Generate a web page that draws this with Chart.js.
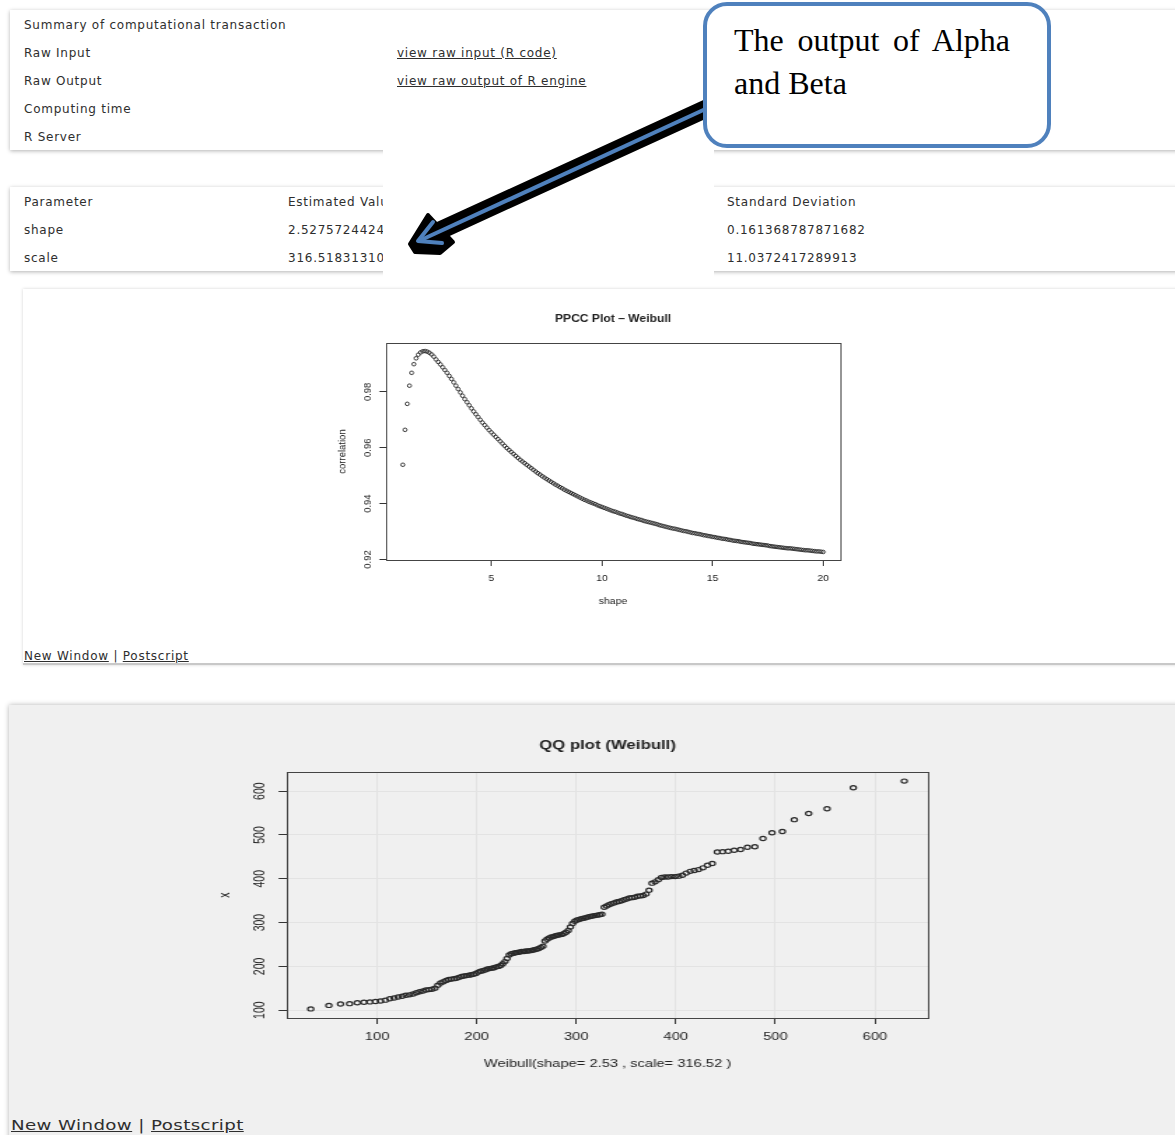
<!DOCTYPE html>
<html>
<head>
<meta charset="utf-8">
<script src="https://cdn.jsdelivr.net/npm/chart.js@4.4.1/dist/chart.umd.min.js"></script>
<style>
  html, body { margin: 0; padding: 0; }
  body {
    width: 1175px; height: 1135px; position: relative; overflow: hidden;
    background: #fff; font-family: "DejaVu Sans", Verdana, sans-serif; color: #333;
  }
  .panel { position: absolute; background: #fff; }
  .t {
    position: absolute; font-size: 12px; letter-spacing: 0.75px; line-height: 16px;
    white-space: nowrap; color: #2e2e2e;
  }
  .u { text-decoration: underline; }
  #patch { position: absolute; left: 383px; top: 149px; width: 331px; height: 129px; background: #fff; z-index: 2; }
  #arrow { position: absolute; left: 0; top: 0; z-index: 3; }
  #callout {
    position: absolute; left: 703px; top: 2px; width: 348px; height: 146px; box-sizing: border-box;
    border: 4px solid #4f81bd; border-radius: 24px; background: #fff; z-index: 4;
  }
  #calloutText {
    position: absolute; left: 734px; top: 19px; width: 276px; z-index: 5;
    font-family: "Liberation Serif", "Times New Roman", serif; font-size: 32px; line-height: 43.3px;
    color: #000; text-align: justify; text-align-last: left;
  }
  .wrap { position: absolute; transform-origin: 0 0; }
</style>
</head>
<body>

<!-- transaction summary -->
<div class="panel" style="left:10px;top:10px;width:1175px;height:140px;box-shadow:0 1px 4px rgba(0,0,0,0.3);"></div>
<div class="t" style="left:24px;top:17px;">Summary of computational transaction</div>
<div class="t" style="left:24px;top:45px;">Raw Input</div>
<div class="t" style="left:24px;top:73px;">Raw Output</div>
<div class="t" style="left:24px;top:101px;">Computing time</div>
<div class="t" style="left:24px;top:129px;">R Server</div>
<div class="t u" style="left:397px;top:45px;">view raw input (R code)</div>
<div class="t u" style="left:397px;top:73px;">view raw output of R engine</div>

<!-- parameter estimates -->
<div class="panel" style="left:10px;top:187px;width:1175px;height:84px;box-shadow:0 1px 4px rgba(0,0,0,0.3);"></div>
<div class="t" style="left:24px;top:194px;">Parameter</div>
<div class="t" style="left:24px;top:222px;">shape</div>
<div class="t" style="left:24px;top:250px;">scale</div>
<div class="t" style="left:288px;top:194px;">Estimated Value</div>
<div class="t" style="left:288px;top:222px;">2.5275724424</div>
<div class="t" style="left:288px;top:250px;">316.51831310</div>
<div class="t" style="left:727px;top:194px;">Standard Deviation</div>
<div class="t" style="left:727px;top:222px;">0.161368787871682</div>
<div class="t" style="left:727px;top:250px;">11.0372417289913</div>

<div id="patch"></div>

<svg id="arrow" width="1175" height="300">
  <line x1="712" y1="106" x2="428" y2="236" stroke="#000" stroke-width="18" stroke-linecap="round"/>
  <polygon points="410,244 428,215 453,242 440,253 415,252" fill="#000" stroke="#000" stroke-width="4" stroke-linejoin="round"/>
  <line x1="712" y1="106" x2="421" y2="240" stroke="#4f81bd" stroke-width="4"/>
  <polyline points="433,222 418,241 442,243" fill="none" stroke="#4f81bd" stroke-width="4" stroke-linejoin="round" stroke-linecap="round"/>
</svg>

<div id="callout"></div>
<div id="calloutText">The output of Alpha and Beta</div>

<!-- PPCC panel -->
<div class="panel" style="left:23px;top:289px;width:1160px;height:374px;border-bottom:2px solid #c8c8c8;box-shadow:0 0 3px rgba(0,0,0,0.18);"></div>
<div class="wrap" style="left:330px;top:300px;transform:scaleX(1.1);">
  <canvas id="ppcc" width="480" height="320"></canvas>
</div>
<div class="t" style="left:24px;top:648px;"><span class="u">New Window</span> | <span class="u">Postscript</span></div>

<!-- QQ panel -->
<div class="panel" style="left:9px;top:705px;width:1175px;height:440px;background:#f0f0f0;box-shadow:0 0 5px rgba(0,0,0,0.3);"></div>
<div class="wrap" style="left:200px;top:720px;transform:scaleX(1.4);">
  <canvas id="qq" width="540" height="360"></canvas>
</div>
<div class="t" style="left:11px;top:1116px;font-size:14px;line-height:18px;letter-spacing:0.3px;transform-origin:0 0;transform:scaleX(1.3);"><span class="u">New Window</span> | <span class="u">Postscript</span></div>

<script>
// PPCC: correlation against Weibull shape
const PPCC_SHAPE = [
  1.0,1.1,1.2,1.3,1.4,1.5,1.6,1.7,1.8,1.9,
  2.0,2.1,2.2,2.3,2.4,2.5,2.6,2.7,2.8,2.9,
  3.0,3.1,3.2,3.3,3.4,3.5,3.6,3.7,3.8,3.9,
  4.0,4.1,4.2,4.3,4.4,4.5,4.6,4.7,4.8,4.9,
  5.0,5.1,5.2,5.3,5.4,5.5,5.6,5.7,5.8,5.9,
  6.0,6.1,6.2,6.3,6.4,6.5,6.6,6.7,6.8,6.9,
  7.0,7.1,7.2,7.3,7.4,7.5,7.6,7.7,7.8,7.9,
  8.0,8.1,8.2,8.3,8.4,8.5,8.6,8.7,8.8,8.9,
  9.0,9.1,9.2,9.3,9.4,9.5,9.6,9.7,9.8,9.9,
  10.0,10.1,10.2,10.3,10.4,10.5,10.6,10.7,10.8,10.9,
  11.0,11.1,11.2,11.3,11.4,11.5,11.6,11.7,11.8,11.9,
  12.0,12.1,12.2,12.3,12.4,12.5,12.6,12.7,12.8,12.9,
  13.0,13.1,13.2,13.3,13.4,13.5,13.6,13.7,13.8,13.9,
  14.0,14.1,14.2,14.3,14.4,14.5,14.6,14.7,14.8,14.9,
  15.0,15.1,15.2,15.3,15.4,15.5,15.6,15.7,15.8,15.9,
  16.0,16.1,16.2,16.3,16.4,16.5,16.6,16.7,16.8,16.9,
  17.0,17.1,17.2,17.3,17.4,17.5,17.6,17.7,17.8,17.9,
  18.0,18.1,18.2,18.3,18.4,18.5,18.6,18.7,18.8,18.9,
  19.0,19.1,19.2,19.3,19.4,19.5,19.6,19.7,19.8,19.9,
  20.0
];
const PPCC_CORR = [
  0.9539,0.9664,0.9757,0.9822,0.9868,0.9899,0.9920,0.9933,0.9941,0.9945,
  0.9946,0.9944,0.9940,0.9934,0.9926,0.9916,0.9907,0.9898,0.9888,0.9878,
  0.9868,0.9857,0.9846,0.9834,0.9822,0.9810,0.9798,0.9786,0.9774,0.9763,
  0.9752,0.9741,0.9730,0.9720,0.9710,0.9700,0.9690,0.9681,0.9672,0.9663,
  0.9655,0.9647,0.9639,0.9631,0.9623,0.9615,0.9607,0.9599,0.9592,0.9585,
  0.9578,0.9571,0.9564,0.9557,0.9551,0.9545,0.9539,0.9533,0.9527,0.9521,
  0.9515,0.9509,0.9504,0.9498,0.9493,0.9488,0.9483,0.9478,0.9473,0.9468,
  0.9464,0.9459,0.9455,0.9450,0.9446,0.9442,0.9438,0.9434,0.9430,0.9426,
  0.9422,0.9418,0.9414,0.9411,0.9407,0.9404,0.9401,0.9398,0.9394,0.9391,
  0.9388,0.9385,0.9382,0.9379,0.9376,0.9373,0.9371,0.9368,0.9365,0.9363,
  0.9360,0.9357,0.9355,0.9352,0.9350,0.9348,0.9345,0.9343,0.9341,0.9338,
  0.9336,0.9334,0.9332,0.9330,0.9328,0.9326,0.9323,0.9321,0.9319,0.9317,
  0.9315,0.9313,0.9311,0.9310,0.9308,0.9306,0.9304,0.9302,0.9301,0.9299,
  0.9297,0.9295,0.9294,0.9292,0.9291,0.9289,0.9287,0.9286,0.9284,0.9283,
  0.9281,0.9280,0.9278,0.9277,0.9275,0.9274,0.9273,0.9271,0.9270,0.9268,
  0.9267,0.9266,0.9265,0.9263,0.9262,0.9261,0.9260,0.9259,0.9257,0.9256,
  0.9255,0.9254,0.9253,0.9252,0.9251,0.9250,0.9248,0.9247,0.9246,0.9245,
  0.9244,0.9243,0.9242,0.9241,0.9240,0.9240,0.9239,0.9238,0.9237,0.9236,
  0.9235,0.9234,0.9233,0.9233,0.9232,0.9231,0.9230,0.9229,0.9229,0.9228,
  0.9227
];
const PPCC_XTICKS = [5, 10, 15, 20];
const PPCC_YTICKS = [0.92, 0.94, 0.96, 0.98];

// QQ: Weibull quantiles vs. ordered sample
const QQ_THEORETICAL = [
  33.4,51.6,63.3,72.4,80.1,86.8,92.8,98.4,103.5,108.3,
  112.8,117.1,121.2,125.2,128.9,132.6,136.1,139.5,142.8,146.0,
  149.1,152.2,155.2,158.1,161.0,163.8,166.6,169.3,172.0,174.7,
  177.3,179.8,182.3,184.9,187.4,189.8,192.2,194.6,197.0,199.3,
  201.6,203.9,206.2,208.5,210.8,213.0,215.3,217.5,219.7,221.9,
  224.1,226.2,228.4,230.5,232.7,234.8,237.0,239.1,241.2,243.3,
  245.4,247.6,249.7,251.8,253.9,256.0,258.1,260.2,262.3,264.4,
  266.5,268.6,270.7,272.8,274.9,277.0,279.1,281.3,283.4,285.5,
  287.7,289.8,292.0,294.1,296.3,298.5,300.7,302.9,305.1,307.3,
  309.6,311.8,314.1,316.4,318.7,321.0,323.4,325.7,328.1,330.5,
  332.9,335.4,337.9,340.4,342.9,345.5,348.1,350.7,353.3,356.0,
  358.8,361.6,364.4,367.2,370.1,373.1,376.1,379.2,382.4,385.6,
  388.9,392.2,395.7,399.2,402.8,406.6,410.4,414.4,418.5,422.8,
  427.2,431.8,436.6,441.7,447.0,452.6,458.6,465.0,471.9,479.3,
  487.5,496.6,507.0,519.0,533.4,551.9,578.2,629.4
];
const QQ_SAMPLE = [
  103,111,114,115,117,118,119,120,121,123,
  126,128,130,132,134,135,137,140,142,144,
  146,147,148,150,157,162,165,168,170,171,
  172,173,175,177,178,179,180,181,182,184,
  187,189,190,192,194,195,196,197,199,200,
  202,206,211,218,226,229,230,231,232,233,
  234,234,235,235,236,237,238,239,241,243,
  246,258,262,265,267,268,270,271,272,273,
  275,278,282,290,298,303,306,307,309,310,
  311,313,314,315,316,317,318,319,335,338,
  341,343,345,347,348,350,352,354,356,357,
  358,360,361,362,365,374,390,393,398,403,
  404,404,405,405,406,408,413,417,419,421,
  425,431,435,461,462,463,465,467,472,473,
  492,505,508,535,549,560,608,623
];
const QQ_XTICKS = [100, 200, 300, 400, 500, 600];
const QQ_YTICKS = [100, 200, 300, 400, 500, 600];

// axis limits the way R extends them: 4% past the data on each side
function rRange(values) {
  const lo = Math.min(...values), hi = Math.max(...values);
  const d = (hi - lo) * 0.04;
  return [lo - d, hi + d];
}

const RFONT = '"Liberation Sans", Arial, Helvetica, sans-serif';

// box, tick labels, axis titles and main title in base-graphics style
function rFrame(o) {
  return {
    id: 'rFrame',
    afterDraw(chart) {
      const { ctx, chartArea: a } = chart;
      const xs = chart.scales.x, ys = chart.scales.y;
      ctx.save();
      ctx.strokeStyle = o.boxColor;
      ctx.lineWidth = 1;
      ctx.strokeRect(Math.round(a.left) + 0.5, Math.round(a.top) + 0.5,
                     Math.round(a.right - a.left), Math.round(a.bottom - a.top));
      ctx.fillStyle = o.textColor;
      ctx.textAlign = 'center';
      ctx.textBaseline = 'middle';
      ctx.font = o.axisSize + 'px ' + RFONT;
      xs.ticks.forEach(t => {
        ctx.fillText(o.xfmt(t.value), xs.getPixelForValue(t.value), a.bottom + o.xLabelGap);
      });
      ys.ticks.forEach(t => {
        ctx.save();
        ctx.translate(a.left - o.yLabelGap, ys.getPixelForValue(t.value));
        ctx.rotate(-Math.PI / 2);
        ctx.fillText(o.yfmt(t.value), 0, 0);
        ctx.restore();
      });
      ctx.fillText(o.xTitle, (a.left + a.right) / 2, a.bottom + o.xTitleGap);
      ctx.save();
      ctx.translate(a.left - o.yTitleGap, (a.top + a.bottom) / 2);
      ctx.rotate(-Math.PI / 2);
      ctx.fillText(o.yTitle, 0, 0);
      ctx.restore();
      ctx.font = 'bold ' + o.titleSize + 'px ' + RFONT;
      ctx.fillText(o.title, (a.left + a.right) / 2, o.titleY);
      ctx.restore();
    }
  };
}

function rScatter(canvasId, xs, ys, xticks, yticks, look, frame) {
  const [xmin, xmax] = rRange(xs);
  const [ymin, ymax] = rRange(ys);
  const gridLines = look.grid;
  const axis = (min, max, ticks, fitSide) => ({
    type: 'linear', min: min, max: max,
    afterBuildTicks: s => { s.ticks = ticks.map(v => ({ value: v })); },
    afterFit: s => { s[fitSide] = 10; },
    ticks: { display: false },
    grid: {
      display: true, drawOnChartArea: !!gridLines, color: gridLines || 'rgba(0,0,0,0)',
      lineWidth: 1, drawTicks: true, tickLength: 6, tickColor: '#333', tickWidth: 1
    },
    border: { display: false }
  });
  return new Chart(document.getElementById(canvasId), {
    type: 'scatter',
    data: {
      datasets: [{
        data: xs.map((x, i) => ({ x: x, y: ys[i] })),
        pointStyle: 'circle',
        pointRadius: look.radius,
        pointHoverRadius: look.radius,
        pointBorderWidth: look.stroke,
        pointBorderColor: look.color,
        pointBackgroundColor: 'rgba(0,0,0,0)',
        borderColor: look.color,
        showLine: false
      }]
    },
    options: {
      responsive: false, animation: false, events: [], devicePixelRatio: 1,
      layout: { padding: look.padding },
      plugins: { legend: { display: false }, tooltip: { enabled: false }, title: { display: false } },
      scales: {
        x: axis(xmin, xmax, xticks, 'height'),
        y: axis(ymin, ymax, yticks, 'width')
      }
    },
    plugins: [rFrame(frame)]
  });
}

rScatter('ppcc', PPCC_SHAPE, PPCC_CORR, PPCC_XTICKS, PPCC_YTICKS,
  { radius: 1.8, stroke: 0.9, color: '#222', grid: null,
    padding: { left: 40.9, right: 16.4, top: 43, bottom: 50 } },
  { boxColor: '#444', textColor: '#222', axisSize: 9.5, titleSize: 11,
    title: 'PPCC Plot \u2013 Weibull', titleY: 19,
    xTitle: 'shape', yTitle: 'correlation',
    xfmt: v => String(v), yfmt: v => v.toFixed(2),
    xLabelGap: 18, xTitleGap: 41, yLabelGap: 16.4, yTitleGap: 40 });

rScatter('qq', QQ_THEORETICAL, QQ_SAMPLE, QQ_XTICKS, QQ_YTICKS,
  { radius: 2.1, stroke: 1.2, color: '#2a2a2a', grid: '#e3e3e3',
    padding: { left: 52.14, right: 20, top: 52, bottom: 52 } },
  { boxColor: '#444', textColor: '#222', axisSize: 10.5, titleSize: 12,
    title: 'QQ plot (Weibull)', titleY: 26,
    xTitle: 'Weibull(shape= 2.53 , scale= 316.52 )', yTitle: 'x',
    xfmt: v => String(v), yfmt: v => String(v),
    xLabelGap: 19, xTitleGap: 46, yLabelGap: 19.3, yTitleGap: 43.6 });
</script>
</body>
</html>
